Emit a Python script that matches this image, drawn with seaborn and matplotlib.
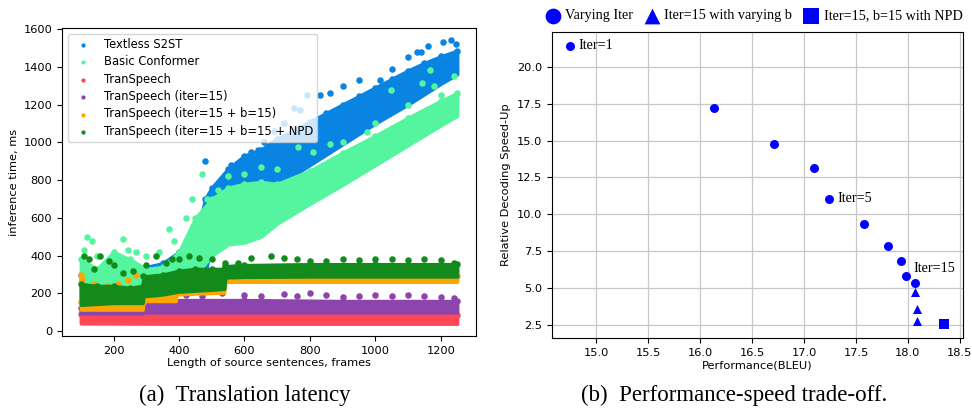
import matplotlib
matplotlib.use("Agg")
import matplotlib.pyplot as plt
import seaborn as sns

# ---------------- (a) Translation latency : band envelopes + scattered points ----------------
names = ["Textless S2ST", "Basic Conformer", "TranSpeech", "TranSpeech (iter=15)",
         "TranSpeech (iter=15 + b=15)", "TranSpeech (iter=15 + b=15 + NPD"]
colors = ["#0984e3", "#55f5a0", "#ff4757", "#8e44ad", "#ffa502", "#138a1c"]

# Textless S2ST
ts_x = [100, 150, 200, 250, 275, 300, 350, 400, 450, 480, 500, 550, 600, 650, 700, 750, 800, 850, 900, 950, 1000, 1050, 1100, 1150, 1200, 1250]
ts_lo = [150, 160, 170, 180, 90, 170, 190, 230, 280, 300, 480, 580, 640, 700, 770, 825, 880, 935, 990, 1045, 1100, 1150, 1200, 1255, 1310, 1360]
ts_hi = [300, 310, 320, 330, 330, 340, 360, 420, 480, 700, 760, 860, 930, 960, 1020, 1065, 1110, 1155, 1200, 1245, 1290, 1335, 1380, 1420, 1455, 1485]
ts_px = [480, 455, 470, 500, 520, 560, 590, 620, 640, 660, 690, 720, 750, 769, 790, 830, 860, 900, 950, 1014, 1050, 1100, 1126, 1140, 1160, 1207, 1230, 1245, 280, 295, 110, 160, 430, 440]
ts_py = [900, 420, 350, 640, 700, 880, 860, 950, 960, 1000, 1060, 1100, 1180, 1171, 1250, 1250, 1260, 1300, 1330, 1330, 1390, 1450, 1480, 1480, 1510, 1533, 1540, 1520, 90, 85, 220, 290, 480, 500]

# Basic Conformer
bc_x = [100, 150, 200, 250, 300, 350, 400, 450, 500, 550, 600, 650, 700, 800, 900, 1000, 1100, 1200, 1250]
bc_lo = [150, 170, 180, 200, 200, 210, 240, 300, 400, 460, 470, 500, 570, 675, 775, 880, 985, 1090, 1140]
bc_hi = [380, 330, 420, 380, 330, 340, 420, 600, 700, 760, 780, 790, 780, 850, 945, 1035, 1130, 1220, 1260]
bc_px = [120, 135, 110, 150, 230, 245, 270, 300, 370, 340, 385, 420, 440, 470, 485, 520, 550, 600, 650, 700, 764, 810, 860, 900, 973, 1000, 1049, 1100, 1141, 1166, 1180, 1240, 1200]
bc_py = [500, 480, 430, 400, 490, 430, 420, 400, 540, 420, 480, 600, 700, 830, 700, 750, 820, 830, 870, 860, 977, 950, 990, 1000, 1057, 1100, 1277, 1200, 1316, 1383, 1300, 1350, 1250]

# TranSpeech
t1_x = [100, 400, 700, 1000, 1250]
t1_lo = [42, 40, 40, 40, 40]
t1_hi = [90, 88, 90, 88, 88]
t1_px = [130, 250, 380, 520, 660, 780, 900, 1030, 1150, 1230]
t1_py = [96, 95, 94, 96, 95, 94, 96, 95, 94, 95]

# TranSpeech (iter=15)
t2_x = [100, 289, 291, 600, 900, 1250]
t2_lo = [95, 95, 100, 100, 100, 100]
t2_hi = [125, 125, 165, 165, 160, 160]
t2_px = [300, 330, 380, 420, 470, 530, 600, 650, 720, 760, 800, 850, 900, 950, 1000, 1050, 1100, 1150, 1200, 1240]
t2_py = [190, 180, 200, 190, 185, 200, 190, 185, 195, 185, 200, 190, 180, 185, 190, 185, 190, 185, 180, 175]

# TranSpeech (iter=15 + b=15)
t3_x = [100, 289, 291, 390, 392, 460, 538, 542, 1250]
t3_lo = [115, 115, 160, 160, 195, 200, 205, 262, 262]
t3_hi = [155, 155, 205, 210, 255, 260, 270, 292, 292]
t3_px = [100, 105, 140, 180, 215, 245, 270, 300, 330, 420, 460, 500, 640]
t3_py = [300, 270, 250, 240, 250, 270, 300, 280, 290, 290, 300, 300, 310]

# TranSpeech (iter=15 + b=15 + NPD
t4_x = [100, 150, 200, 250, 289, 291, 350, 400, 450, 500, 538, 542, 600, 800, 1000, 1250]
t4_lo = [140, 145, 150, 150, 150, 185, 195, 210, 215, 220, 225, 285, 288, 290, 290, 290]
t4_hi = [250, 240, 240, 230, 240, 290, 300, 320, 330, 330, 330, 345, 350, 355, 355, 355]
t4_px = [110, 125, 140, 160, 185, 200, 230, 260, 300, 330, 360, 380, 400, 430, 460, 500, 540, 580, 620, 680, 720, 760, 800, 850, 900, 950, 1000, 1050, 1100, 1150, 1200, 1240]
t4_py = [400, 380, 330, 400, 370, 350, 310, 320, 350, 400, 360, 380, 380, 400, 390, 380, 360, 360, 390, 400, 390, 380, 370, 370, 380, 375, 385, 380, 375, 385, 375, 360]

# ---------------- (b) Performance-speed trade-off ----------------
iter_bleu = [14.75, 16.13, 16.71, 17.10, 17.24, 17.58, 17.81, 17.93, 17.98, 18.07]
iter_speed = [21.45, 17.24, 14.80, 13.15, 11.05, 9.37, 7.84, 6.80, 5.80, 5.35]
b_bleu = [18.07, 18.09, 18.09]
b_speed = [4.74, 3.56, 2.73]
npd_bleu = [18.35]
npd_speed = [2.57]
legend_b = ["Varying Iter", "Iter=15 with varying b", "Iter=15, b=15 with NPD"]
annot_text = ["Iter=1", "Iter=5", "Iter=15"]
annot_idx = [0, 4, 9]

captions = ["(a)  Translation latency", "(b)  Performance-speed trade-off."]

plt.rcParams['font.family'] = ['DejaVu Sans']
SERIF = ['Liberation Serif', 'DejaVu Serif']

fig = plt.figure(figsize=(9.72, 4.08), dpi=100)
ax1 = fig.add_axes([0.0638, 0.1765, 0.4259, 0.7549])
ax2 = fig.add_axes([0.5676, 0.1716, 0.4231, 0.7507])

bands = [(ts_x, ts_lo, ts_hi, ts_px, ts_py), (bc_x, bc_lo, bc_hi, bc_px, bc_py),
         (t1_x, t1_lo, t1_hi, t1_px, t1_py), (t2_x, t2_lo, t2_hi, t2_px, t2_py),
         (t3_x, t3_lo, t3_hi, t3_px, t3_py), (t4_x, t4_lo, t4_hi, t4_px, t4_py)]
for (bx, blo, bhi, px, py), nm, c in zip(bands, names, colors):
    ax1.fill_between(bx, blo, bhi, color=c, edgecolor=c, linewidth=2.5)
    sns.scatterplot(x=bx, y=bhi, color=c, s=22, linewidth=0, ax=ax1)
    sns.scatterplot(x=px, y=py, color=c, s=22, linewidth=0, ax=ax1, label=nm)

ax1.set_xlim(42.5, 1307.5)
ax1.set_ylim(-25, 1605)
ax1.set_xticks([200, 400, 600, 800, 1000, 1200])
ax1.set_yticks([0, 200, 400, 600, 800, 1000, 1200, 1400, 1600])
ax1.tick_params(labelsize=8.2)
ax1.set_xlabel("Length of source sentences, frames", fontsize=8.2, labelpad=2)
ax1.set_ylabel("inference time, ms", fontsize=8.2, labelpad=3)
ax1.legend(loc='upper left', fontsize=8.3, markerscale=0.65, labelspacing=0.38,
           borderpad=0.35, handleheight=0.6)

sns.scatterplot(x=iter_bleu, y=iter_speed, marker='o', s=42, color='blue', linewidth=0, ax=ax2, label=legend_b[0], zorder=3)
sns.scatterplot(x=b_bleu, y=b_speed, marker='^', s=42, color='blue', linewidth=0, ax=ax2, label=legend_b[1], zorder=3)
sns.scatterplot(x=npd_bleu, y=npd_speed, marker='s', s=42, color='blue', linewidth=0, ax=ax2, label=legend_b[2], zorder=3)
for t, i in zip(annot_text[:2], annot_idx[:2]):
    ax2.annotate(t, (iter_bleu[i], iter_speed[i]), xytext=(6, 0), textcoords='offset points',
                 va='center', ha='left', fontsize=10.2, family=SERIF)
ax2.annotate(annot_text[2], (iter_bleu[annot_idx[2]], iter_speed[annot_idx[2]]), xytext=(-1, 10),
             textcoords='offset points', va='center', ha='left', fontsize=10.2, family=SERIF)
ax2.set_xlim(14.57, 18.53)
ax2.set_ylim(1.6, 22.4)
ax2.set_xticks([15.0, 15.5, 16.0, 16.5, 17.0, 17.5, 18.0, 18.5])
ax2.set_yticks([2.5, 5.0, 7.5, 10.0, 12.5, 15.0, 17.5, 20.0])
ax2.grid(True, color='#c8c8c8', linewidth=0.9)
ax2.set_axisbelow(True)
ax2.tick_params(labelsize=8.2)
ax2.set_xlabel("Performance(BLEU)", fontsize=8.2, labelpad=2)
ax2.set_ylabel("Relative Decoding Speed-Up", fontsize=8.2, labelpad=4)
ax2.legend(loc='lower center', bbox_to_anchor=(0.49, 1.005), ncol=3, frameon=False,
           prop={'family': SERIF, 'size': 10.2}, markerscale=1.75, handletextpad=0.3,
           columnspacing=0.7, handlelength=1.2, borderaxespad=0.15)

fig.text(0.252, 0.032, captions[0], ha='center', va='center', fontsize=16.5, family=SERIF)
fig.text(0.755, 0.032, captions[1], ha='center', va='center', fontsize=16.5, family=SERIF)

fig.savefig("out.png", dpi=100)
